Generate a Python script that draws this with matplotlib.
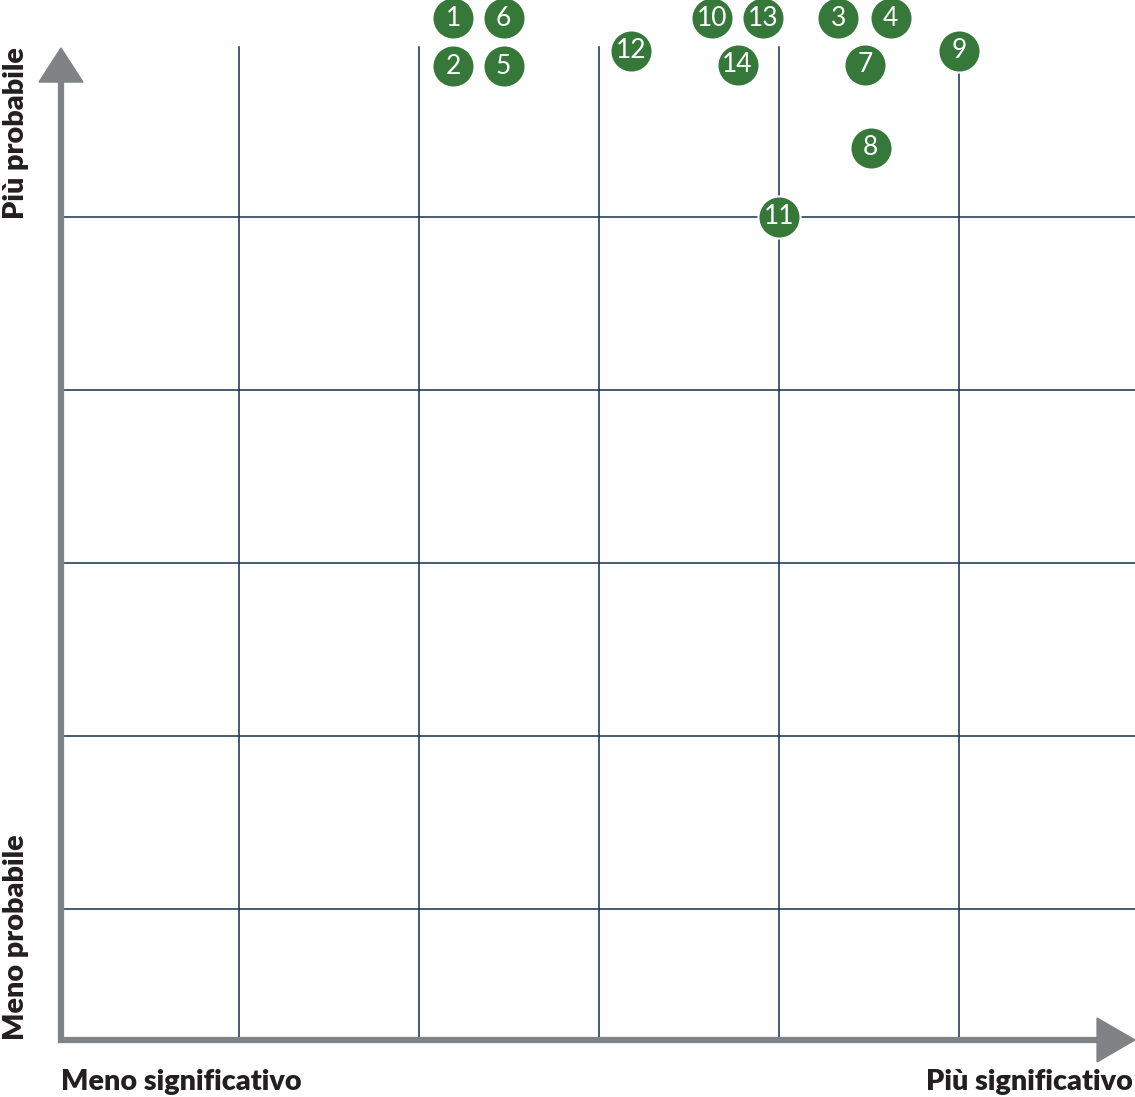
import matplotlib.pyplot as plt
from matplotlib.patches import Polygon

plt.rcParams['font.family'] = ['Lato', 'DejaVu Sans']

# risk id, significance (x), probability (y) in grid units
ids = ["1", "2", "3", "4", "5", "6", "7", "8", "9", "10", "11", "12", "13", "14"]
signif = [2.19, 2.19, 4.33, 4.62, 2.47, 2.47, 4.48, 4.51, 5.0, 3.63, 4.0, 3.18, 3.91, 3.77]
prob = [6.15, 5.87, 6.15, 6.15, 5.87, 6.15, 5.88, 5.40, 5.96, 6.15, 5.0, 5.96, 6.15, 5.88]

x_grid = [1, 2, 3, 4, 5]
y_grid = [1, 2, 3, 4, 5]

fig = plt.figure(figsize=(11.35, 10.97), dpi=100)
ax = fig.add_axes([0, 0, 1, 1])
x0, x1 = -59 / 180, 1076 / 180
y0, y1 = -15 / 173, 1082 / 173
ax.set_xlim(x0, x1)
ax.set_ylim(y0, y1)
ax.axis('off')

ax_x = 0.011   # y axis position
ax_y = 0.243   # x axis position
top = 5.983

grid_col = '#13304d'
for gx in x_grid:
    ax.plot([gx, gx], [ax_y, top], color=grid_col, lw=1.1, zorder=1)
for gy in y_grid:
    ax.plot([ax_x, x1], [gy, gy], color=grid_col, lw=1.1, zorder=1)

axis_col = '#818285'
ax.plot([ax_x, ax_x], [ax_y - 0.015, 5.80], color=axis_col, lw=4.5, zorder=2,
        solid_capstyle='butt')
ax.plot([ax_x - 0.015, 5.78], [ax_y, ax_y], color=axis_col, lw=4.5, zorder=2,
        solid_capstyle='butt')
ax.add_patch(Polygon([[ax_x - 0.122, 5.780], [ax_x + 0.122, 5.780], [ax_x, 5.977]],
                     closed=True, color=axis_col, zorder=2))
ax.add_patch(Polygon([[5.767, ax_y + 0.127], [5.767, ax_y - 0.127], [x1, ax_y]],
                     closed=True, color=axis_col, zorder=2))

ax.scatter(signif, prob, s=920, color='#35783a', edgecolor='white', linewidth=1.5,
           zorder=3, clip_on=False)
for t, xv, yv in zip(ids, signif, prob):
    ax.text(xv, yv, t, color='white', fontsize=19, ha='center', va='center',
            zorder=4)

txt_col = '#231f20'
ax.text(0.011, 0.0, "Meno significativo", fontsize=20.7, fontweight='heavy',
        color=txt_col, ha='left', va='center')
ax.text(x1 - 0.01, 0.0, "Più significativo", fontsize=20.7, fontweight='heavy',
        color=txt_col, ha='right', va='center')
ax.text(-0.24, 5.98, "Più probabile", fontsize=20.7, fontweight='heavy',
        color=txt_col, ha='center', va='top', rotation=90)
ax.text(-0.24, 0.243, "Meno probabile", fontsize=20.7, fontweight='heavy',
        color=txt_col, ha='center', va='bottom', rotation=90)

fig.savefig('out.png', dpi=100)
